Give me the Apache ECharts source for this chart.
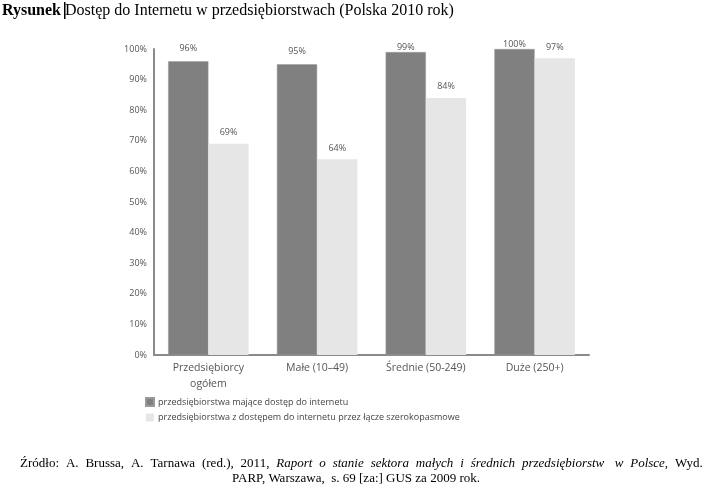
<!DOCTYPE html>
<html><head><meta charset="utf-8">
<script src="https://cdn.jsdelivr.net/npm/echarts@6/dist/echarts.min.js"></script>
<style>html,body{margin:0;padding:0;background:#fff}#c{width:711px;height:488px}</style>
</head><body><div id="c"></div>
<script>
const categories = ['Przedsiębiorcy\nogółem', 'Małe (10–49)', 'Średnie (50-249)', 'Duże (250+)'];
const seriesNames = ['przedsiębiorstwa mające dostęp do internetu', 'przedsiębiorstwa z dostępem do internetu przez łącze szerokopasmowe'];
const accessValues = [96, 95, 99, 100];
const broadbandValues = [69, 64, 84, 97];
const yTicks = [0, 10, 20, 30, 40, 50, 60, 70, 80, 90, 100];

const chart = echarts.init(document.getElementById('c'), null, {renderer: 'canvas'});
const sans = '"Open Sans", "Noto Sans", sans-serif';
const serif = '"Liberation Serif", "DejaVu Serif", serif';
const labelStyle = {show: true, position: 'top', distance: 8, formatter: '{c}%', color: '#555', fontFamily: sans, fontSize: 9};
// label distance tweaks (style only): top labels squeezed in the original
const accessLabelDist = [8, 8, 0, 0];
const broadbandLabelDist = [7, 6, 7, 6];
const withDist = (vals, dists) => vals.map((v, i) => ({value: v, label: {distance: dists[i]}}));

const sp = '{s|  }';
const line1 = ['Źródło:', 'A.', 'Brussa,', 'A.', 'Tarnawa', '(red.),', '2011,'].map(w => '{n|' + w + '}').join(sp)
  + sp + ['Raport', 'o', 'stanie', 'sektora', 'małych', 'i', 'średnich', 'przedsiębiorstw'].map(w => '{i|' + w + '}').join(sp)
  + '{s|   }' + ['w', 'Polsce'].map(w => '{i|' + w + '}').join(sp) + '{n|,}' + sp + '{n|Wyd.}';

chart.setOption({
  animation: false,
  grid: {left: 154, right: 122, top: 49, bottom: 133},
  legend: {
    orient: 'vertical', left: 145, top: 397, padding: 0, itemGap: 6, itemWidth: 8, itemHeight: 8,
    icon: 'rect', textStyle: {color: '#444', fontFamily: sans, fontSize: 9, padding: [0, 0, 0, -1]},
    data: seriesNames
  },
  xAxis: {
    type: 'category', data: categories,
    axisLine: {lineStyle: {color: '#8a8a8a', width: 2}},
    axisTick: {show: false},
    axisLabel: {color: '#555', fontFamily: sans, fontSize: 10.5, lineHeight: 16, margin: 5}
  },
  yAxis: {
    type: 'value', min: 0, max: 100, interval: 10,
    axisLine: {show: true, lineStyle: {color: '#8a8a8a', width: 2}},
    axisTick: {show: false}, splitLine: {show: false},
    axisLabel: {formatter: v => yTicks.includes(v) ? v + '%' : '', color: '#555', fontFamily: sans, fontSize: 9, margin: 7}
  },
  series: [
    {name: seriesNames[0], type: 'bar', data: withDist(accessValues, accessLabelDist), barGap: '0%', barCategoryGap: '26%',
     itemStyle: {color: '#808080', borderColor: '#9a9a9a', borderWidth: 0.5}, label: labelStyle},
    {name: seriesNames[1], type: 'bar', data: withDist(broadbandValues, broadbandLabelDist),
     itemStyle: {color: '#e6e6e6'}, label: labelStyle}
  ],
  graphic: [
    {type: 'text', left: 2, top: 3, style: {
      text: '{b|Rysunek}{g| }{n|Dostęp do Internetu w przedsiębiorstwach (Polska 2010 rok)}',
      rich: {b: {fontFamily: serif, fontSize: 16, fontWeight: 'bold', fill: '#000'},
             g: {fontFamily: serif, fontSize: 16, fill: '#000'},
             n: {fontFamily: serif, fontSize: 16, fill: '#000'}}}},
    {type: 'rect', shape: {x: 64, y: 2, width: 1.5, height: 17}, style: {fill: '#000'}},
    {type: 'text', left: 20, top: 457, style: {
      text: line1,
      rich: {n: {fontFamily: serif, fontSize: 13, fill: '#000'},
             s: {fontFamily: serif, fontSize: 13.8, fill: '#000'},
             i: {fontFamily: serif, fontSize: 13, fontStyle: 'italic', fill: '#000'}}}},
    {type: 'text', left: 232, top: 472, style: {
      text: 'PARP, Warszawa,  s. 69 [za:] GUS za 2009 rok.',
      fontFamily: serif, fontSize: 13, fill: '#000'}}
  ]
});
</script></body></html>
